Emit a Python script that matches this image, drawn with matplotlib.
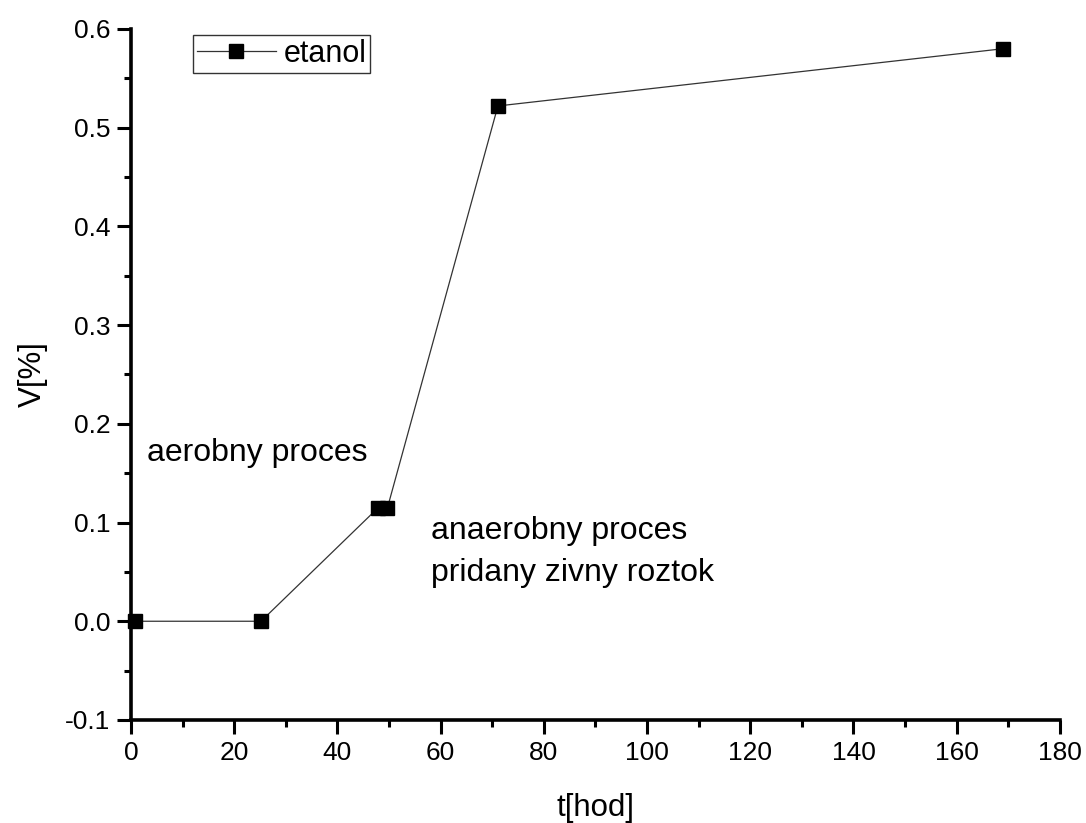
import matplotlib.pyplot as plt
import numpy as np

plt.rcParams["font.family"] = ["Liberation Sans", "DejaVu Sans"]

t_hod = [0.8, 25.2, 47.9, 49.7, 71.1, 169.0]
etanol = [0.0, 0.0, 0.115, 0.115, 0.522, 0.580]

x_ticks = np.arange(0, 181, 20)
y_ticks = np.round(np.arange(-0.1, 0.61, 0.1), 1)

fig = plt.figure(figsize=(10.86, 8.23), dpi=100)
ax = fig.add_axes([0.1206, 0.1252, 0.8554, 0.8396])

ax.plot(t_hod, etanol, "-", color="#333333", linewidth=0.9,
        marker="s", markersize=9.5, markerfacecolor="black",
        markeredgecolor="black", label="etanol", clip_on=False)

ax.set_xlim(0, 180)
ax.set_ylim(-0.1, 0.6)
ax.set_xticks(x_ticks)
ax.set_yticks(y_ticks)
ax.set_xticks(np.arange(10, 180, 20), minor=True)
ax.set_yticks(np.arange(-0.05, 0.6, 0.1), minor=True)
ax.set_yticklabels([f"{v:.1f}" for v in y_ticks])

for side in ("top", "right"):
    ax.spines[side].set_visible(False)
for side in ("left", "bottom"):
    ax.spines[side].set_linewidth(2.6)

ax.tick_params(which="major", direction="out", length=10, width=2.2,
               labelsize=19, pad=5)
ax.tick_params(which="minor", direction="out", length=5, width=2.2)

ax.set_xlabel("t[hod]", fontsize=22.5, labelpad=20)
ax.set_ylabel("V[%]", fontsize=22.5, labelpad=12)

ax.text(3.1, 0.17, "aerobny proces", fontsize=23, va="center", ha="left")
ax.text(58.1, 0.07, "anaerobny proces\npridany zivny roztok", fontsize=23,
        va="center", ha="left", linespacing=1.55)

leg = ax.legend(loc="upper left", bbox_to_anchor=(0.0667, 0.991), fontsize=22,
                frameon=True, fancybox=False, edgecolor="black",
                handlelength=2.6, borderpad=0.12, handletextpad=0.25,
                borderaxespad=0.0)
leg.get_frame().set_linewidth(1.0)

fig.savefig("out.png", dpi=100)
